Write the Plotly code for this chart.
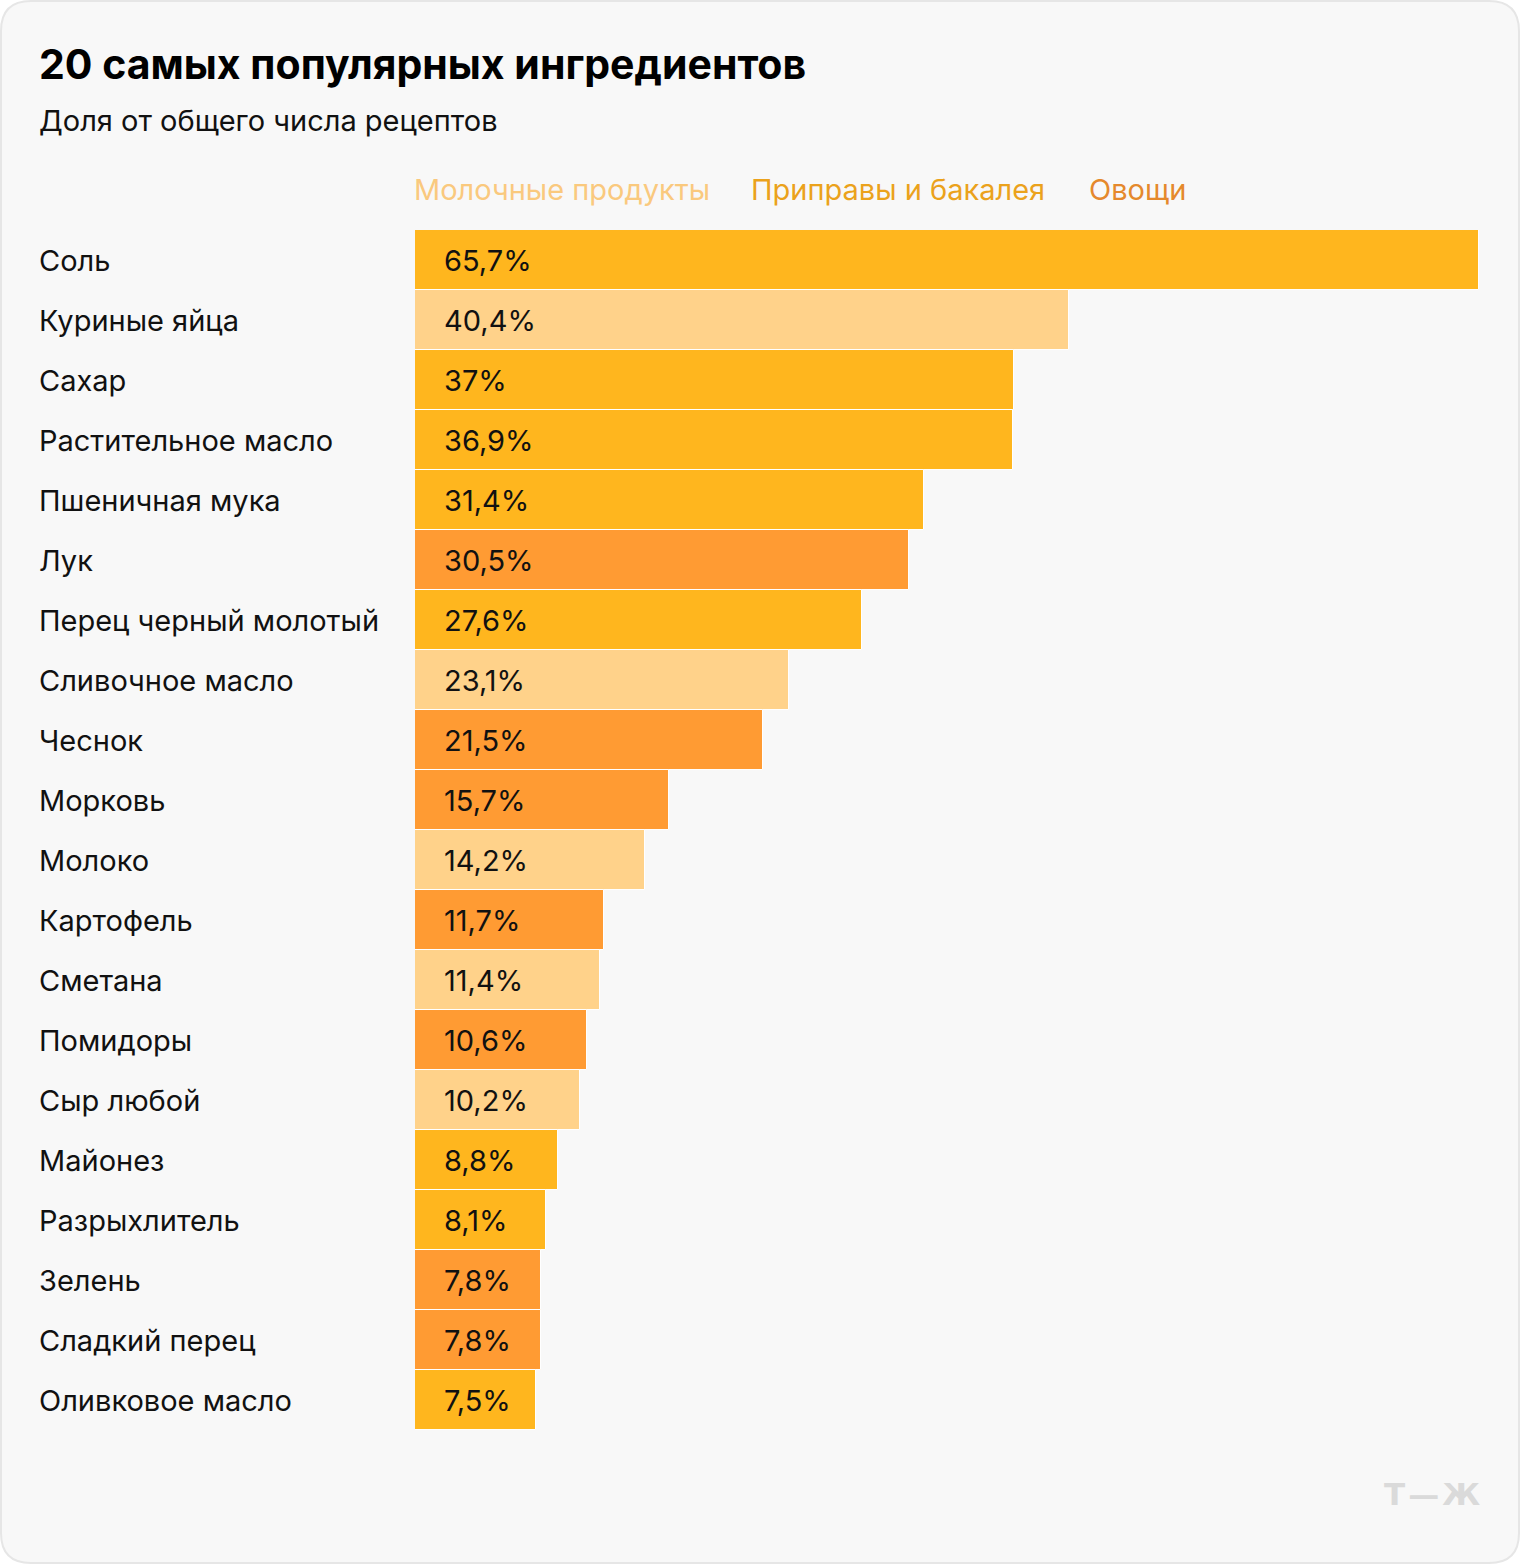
import plotly.graph_objects as go

ingredients = ["Соль", "Куриные яйца", "Сахар", "Растительное масло", "Пшеничная мука",
               "Лук", "Перец черный молотый", "Сливочное масло", "Чеснок", "Морковь",
               "Молоко", "Картофель", "Сметана", "Помидоры", "Сыр любой",
               "Майонез", "Разрыхлитель", "Зелень", "Сладкий перец", "Оливковое масло"]
shares = [65.7, 40.4, 37.0, 36.9, 31.4, 30.5, 27.6, 23.1, 21.5, 15.7,
          14.2, 11.7, 11.4, 10.6, 10.2, 8.8, 8.1, 7.8, 7.8, 7.5]
groups = ["spice", "dairy", "spice", "spice", "spice", "veg", "spice", "dairy", "veg", "veg",
          "dairy", "veg", "dairy", "veg", "dairy", "spice", "spice", "veg", "veg", "spice"]
group_names = {"dairy": "Молочные продукты", "spice": "Приправы и бакалея", "veg": "Овощи"}
legend_order = ["dairy", "spice", "veg"]

bar_colors = {"dairy": "#FFD28A", "spice": "#FFB61E", "veg": "#FF9B33"}
legend_colors = {"dairy": "#FAC97E", "spice": "#EBA21C", "veg": "#E5892C"}

W, H = 1520, 1564
L, R, T, B = 415, 41, 230, 134
PW, PH = W - L - R, H - T - B
FONT = "Inter"
FS = 29


def px_x(px):
    return (px - L) / PW


def px_y(py):
    return (H - B - py) / PH


def fmt(v):
    return f"{v:g}".replace(".", ",") + "%"


fig = go.Figure()
fig.add_trace(go.Bar(
    x=shares, y=ingredients, orientation="h",
    marker=dict(color=[bar_colors[g] for g in groups], line=dict(color="#FFFFFF", width=1)),
    showlegend=False, hoverinfo="skip",
))

annotations = []
for name, v in zip(ingredients, shares):
    annotations.append(dict(x=px_x(37), xref="paper", y=name, yref="y", text=name,
                            xanchor="left", yanchor="middle", showarrow=False,
                            font=dict(family=FONT, size=FS, color="#111111")))
    annotations.append(dict(x=0, xref="x", y=name, yref="y", text=fmt(v), xshift=27,
                            xanchor="left", yanchor="middle", showarrow=False,
                            font=dict(family=FONT, size=FS, color="#111111")))

legend_x = [412, 749, 1087]
for gx, g in zip(legend_x, legend_order):
    annotations.append(dict(x=px_x(gx), xref="paper", y=px_y(190), yref="paper",
                            text=group_names[g], xanchor="left", yanchor="middle",
                            showarrow=False,
                            font=dict(family=FONT, size=FS, color=legend_colors[g])))

annotations.append(dict(x=px_x(37), xref="paper", y=px_y(64), yref="paper",
                        text="<b>20 самых популярных ингредиентов</b>", xanchor="left",
                        yanchor="middle", showarrow=False,
                        font=dict(family=FONT, size=41, color="#000000")))
annotations.append(dict(x=px_x(37), xref="paper", y=px_y(120), yref="paper",
                        text="Доля от общего числа рецептов", xanchor="left",
                        yanchor="middle", showarrow=False,
                        font=dict(family=FONT, size=FS, color="#111111")))
annotations.append(dict(x=px_x(1482), xref="paper", y=px_y(1494), yref="paper",
                        text="<b>Т\u200a—\u200aЖ</b>", xanchor="right", yanchor="middle",
                        showarrow=False,
                        font=dict(family="DejaVu Sans", size=31, color="#DADADA")))

# rounded card background
r = 30
x0, x1, y0, y1 = 1, W - 1, 1, H - 1
def P(px, py):
    return f"{px_x(px)},{px_y(py)}"
path = (f"M {P(x0 + r, y0)} L {P(x1 - r, y0)} Q {P(x1, y0)} {P(x1, y0 + r)} "
        f"L {P(x1, y1 - r)} Q {P(x1, y1)} {P(x1 - r, y1)} "
        f"L {P(x0 + r, y1)} Q {P(x0, y1)} {P(x0, y1 - r)} "
        f"L {P(x0, y0 + r)} Q {P(x0, y0)} {P(x0 + r, y0)} Z")
shapes = [dict(type="path", path=path, xref="paper", yref="paper", layer="below",
               fillcolor="#F8F8F8", line=dict(color="#E6E6E6", width=2))]

fig.update_layout(
    width=W, height=H,
    margin=dict(l=L, r=R, t=T, b=B, pad=0),
    paper_bgcolor="#FFFFFF", plot_bgcolor="rgba(0,0,0,0)",
    bargap=0.0,
    xaxis=dict(range=[0, 65.7], visible=False, fixedrange=True),
    yaxis=dict(autorange="reversed", visible=False, fixedrange=True),
    annotations=annotations, shapes=shapes,
    font=dict(family=FONT),
)

fig.write_html("out.html", config={"displayModeBar": False})
